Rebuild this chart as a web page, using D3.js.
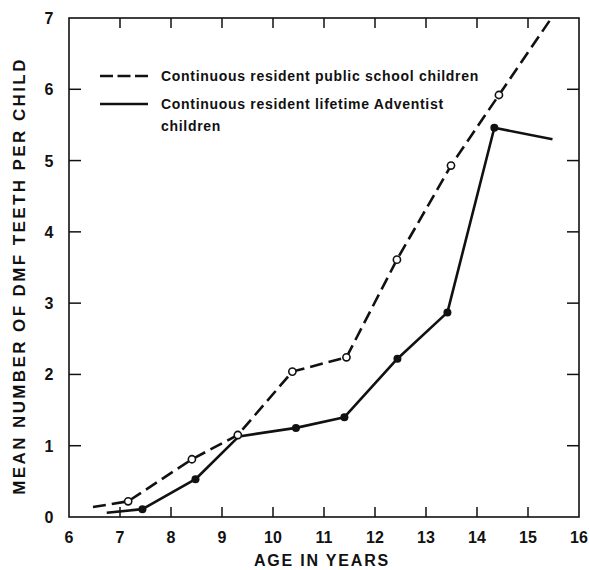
<!DOCTYPE html>
<html>
<head>
<meta charset="utf-8">
<script src="https://cdn.jsdelivr.net/npm/d3@7"></script>
<style>
  body { margin: 0; background: #fff; }
  svg text { font-family: "Liberation Sans", Arial, sans-serif; font-weight: bold; fill: #111; }
</style>
</head>
<body>
<svg id="chart" width="590" height="570"></svg>
<script>
(function (d3) {
    'use strict';

    // public school children (dashed, open circles)
    var publicAges   = [6.47, 7.16, 8.41, 9.31, 10.38, 11.44, 12.43, 13.49, 14.43, 15.46];
    var publicValues = [0.14, 0.22, 0.81, 1.15, 2.04, 2.24, 3.61, 4.93, 5.92, 7.0];
    var publicMarks  = [false, true, true, true, true, true, true, true, true, false];

    // lifetime Adventist children (solid, filled dots)
    var adventAges   = [6.74, 7.44, 8.48, 9.33, 10.45, 11.40, 12.44, 13.42, 14.34, 15.48];
    var adventValues = [0.06, 0.11, 0.53, 1.13, 1.25, 1.40, 2.22, 2.87, 5.46, 5.30];
    var adventMarks  = [false, true, true, false, true, true, true, true, true, false];

    var xTicks = [6, 7, 8, 9, 10, 11, 12, 13, 14, 15, 16];
    var yTicks = [0, 1, 2, 3, 4, 5, 6, 7];

    var legendLabels = [
        ['Continuous resident public school children'],
        ['Continuous resident lifetime Adventist', 'children']
    ];

    var left = 69, right = 579, top = 18, bottom = 517;

    var svg = d3.select('#chart');

    var x = d3.scaleLinear().domain([6, 16]).range([left, right]);
    var y = d3.scaleLinear().domain([0, 7]).range([bottom, top]);

    function zip(ages, vals, marks) {
        return ages.map(function (a, i) { return { x: a, y: vals[i], m: marks[i] }; });
    }
    var pub = zip(publicAges, publicValues, publicMarks);
    var adv = zip(adventAges, adventValues, adventMarks);

    // frame
    svg.append('rect')
        .attr('x', left).attr('y', top)
        .attr('width', right - left).attr('height', bottom - top)
        .attr('fill', 'none').attr('stroke', '#111').attr('stroke-width', 1.6);

    // inward ticks on all four sides
    var inner = xTicks.slice(1, -1);
    svg.selectAll('.tb').data(inner).enter().append('line')
        .attr('x1', x).attr('x2', x).attr('y1', bottom).attr('y2', bottom - 10)
        .attr('stroke', '#111').attr('stroke-width', 1.5);
    svg.selectAll('.tt').data(inner).enter().append('line')
        .attr('x1', x).attr('x2', x).attr('y1', top).attr('y2', top + 10)
        .attr('stroke', '#111').attr('stroke-width', 1.5);
    var innerY = yTicks.slice(1, -1);
    svg.selectAll('.tl').data(innerY).enter().append('line')
        .attr('y1', y).attr('y2', y).attr('x1', left).attr('x2', left + 12)
        .attr('stroke', '#111').attr('stroke-width', 1.5);
    svg.selectAll('.tr').data(innerY).enter().append('line')
        .attr('y1', y).attr('y2', y).attr('x1', right).attr('x2', right - 12)
        .attr('stroke', '#111').attr('stroke-width', 1.5);

    // tick labels
    svg.selectAll('.xl').data(xTicks).enter().append('text')
        .attr('x', x).attr('y', bottom + 26)
        .attr('text-anchor', 'middle').attr('font-size', 16)
        .text(function (d) { return d; });
    svg.selectAll('.yl').data(yTicks).enter().append('text')
        .attr('x', 49).attr('y', function (d) { return y(d) + 6; })
        .attr('text-anchor', 'middle').attr('font-size', 16)
        .text(function (d) { return d; });

    // axis titles
    svg.append('text')
        .attr('x', 322).attr('y', 566)
        .attr('text-anchor', 'middle').attr('font-size', 16)
        .attr('letter-spacing', 1.8)
        .text('AGE IN YEARS');
    svg.append('text')
        .attr('transform', 'translate(25,' + 276 + ') rotate(-90)')
        .attr('text-anchor', 'middle').attr('font-size', 17)
        .attr('letter-spacing', 2.4)
        .text('MEAN NUMBER OF DMF TEETH PER CHILD');

    var line = d3.line().x(function (d) { return x(d.x); }).y(function (d) { return y(d.y); });

    svg.append('path').datum(adv).attr('d', line)
        .attr('fill', 'none').attr('stroke', '#111').attr('stroke-width', 2.6)
        .attr('stroke-linejoin', 'round');
    svg.append('path').datum(pub).attr('d', line)
        .attr('fill', 'none').attr('stroke', '#111').attr('stroke-width', 2.6)
        .attr('stroke-dasharray', '13,6');

    svg.selectAll('.dot').data(adv.filter(function (d) { return d.m; })).enter().append('circle')
        .attr('cx', function (d) { return x(d.x); }).attr('cy', function (d) { return y(d.y); })
        .attr('r', 4).attr('fill', '#111');
    svg.selectAll('.ring').data(pub.filter(function (d) { return d.m; })).enter().append('circle')
        .attr('cx', function (d) { return x(d.x); }).attr('cy', function (d) { return y(d.y); })
        .attr('r', 3.6).attr('fill', '#fff').attr('stroke', '#111').attr('stroke-width', 1.6);

    // legend
    svg.append('line').attr('x1', 100).attr('x2', 148).attr('y1', 76).attr('y2', 76)
        .attr('stroke', '#111').attr('stroke-width', 2.6).attr('stroke-dasharray', '13,4.5');
    svg.append('line').attr('x1', 100).attr('x2', 148).attr('y1', 104).attr('y2', 104)
        .attr('stroke', '#111').attr('stroke-width', 2.6);

    var legendY = [81, 109];
    legendLabels.forEach(function (lines, i) {
        var t = svg.append('text').attr('x', 161).attr('y', legendY[i])
            .attr('font-size', 14).attr('letter-spacing', 0.7);
        lines.forEach(function (s, j) {
            t.append('tspan').attr('x', 161).attr('dy', j ? 22 : 0).text(s);
        });
    });
})(d3);
</script>
</body>
</html>
